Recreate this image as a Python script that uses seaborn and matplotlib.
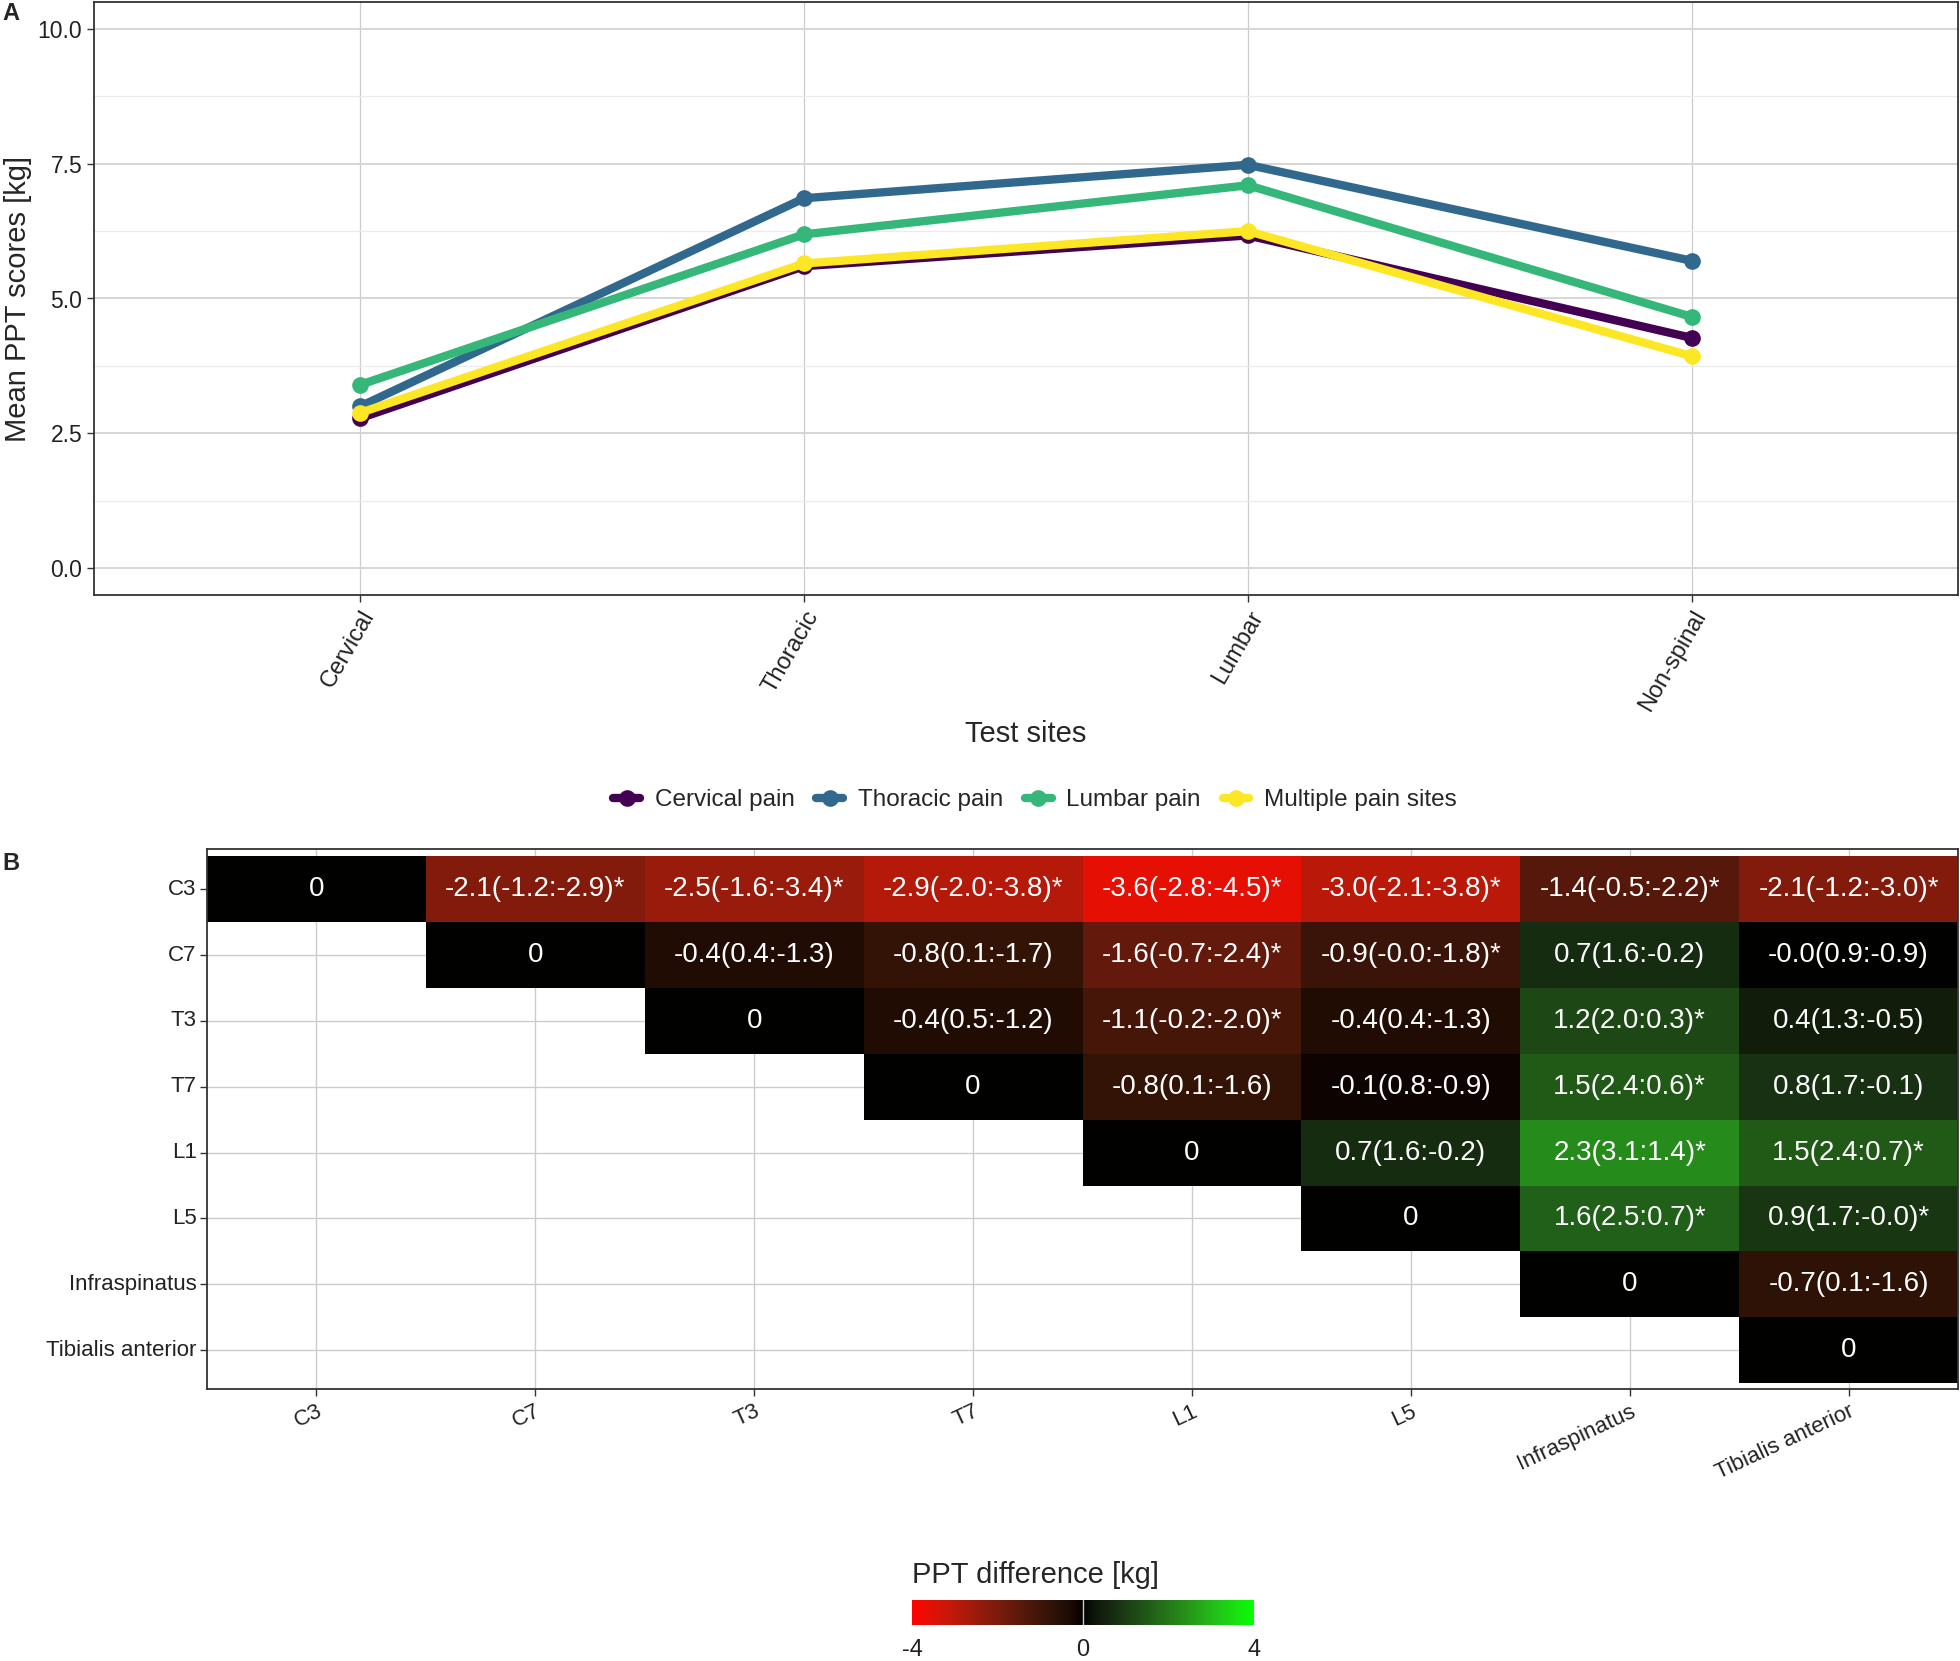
import matplotlib
matplotlib.use("Agg")
import matplotlib.pyplot as plt
import matplotlib.colors as mcolors
from matplotlib.lines import Line2D
import numpy as np
import pandas as pd
import seaborn as sns

# ---- panel A data ----
sites = ["Cervical", "Thoracic", "Lumbar", "Non-spinal"]
groups = ["Cervical pain", "Thoracic pain", "Lumbar pain", "Multiple pain sites"]
cervical_pain = [2.78, 5.60, 6.17, 4.27]
thoracic_pain = [3.00, 6.86, 7.48, 5.70]
lumbar_pain = [3.40, 6.19, 7.10, 4.66]
multiple_pain = [2.88, 5.65, 6.25, 3.93]
group_colors = ["#440154", "#31688E", "#35B779", "#FDE725"]

# ---- panel B data (upper triangle, row by row) ----
muscles = ["C3", "C7", "T3", "T7", "L1", "L5", "Infraspinatus", "Tibialis anterior"]
diff_rows = [
    [0, -2.1, -2.5, -2.9, -3.6, -3.0, -1.4, -2.1],
    [0, -0.4, -0.8, -1.6, -0.9, 0.7, -0.0],
    [0, -0.4, -1.1, -0.4, 1.2, 0.4],
    [0, -0.8, -0.1, 1.5, 0.8],
    [0, 0.7, 2.3, 1.5],
    [0, 1.6, 0.9],
    [0, -0.7],
    [0],
]
label_rows = [
    ["0", "-2.1(-1.2:-2.9)*", "-2.5(-1.6:-3.4)*", "-2.9(-2.0:-3.8)*",
     "-3.6(-2.8:-4.5)*", "-3.0(-2.1:-3.8)*", "-1.4(-0.5:-2.2)*", "-2.1(-1.2:-3.0)*"],
    ["0", "-0.4(0.4:-1.3)", "-0.8(0.1:-1.7)", "-1.6(-0.7:-2.4)*",
     "-0.9(-0.0:-1.8)*", "0.7(1.6:-0.2)", "-0.0(0.9:-0.9)"],
    ["0", "-0.4(0.5:-1.2)", "-1.1(-0.2:-2.0)*", "-0.4(0.4:-1.3)",
     "1.2(2.0:0.3)*", "0.4(1.3:-0.5)"],
    ["0", "-0.8(0.1:-1.6)", "-0.1(0.8:-0.9)", "1.5(2.4:0.6)*", "0.8(1.7:-0.1)"],
    ["0", "0.7(1.6:-0.2)", "2.3(3.1:1.4)*", "1.5(2.4:0.7)*"],
    ["0", "1.6(2.5:0.7)*", "0.9(1.7:-0.0)*"],
    ["0", "-0.7(0.1:-1.6)"],
    ["0"],
]


def to_lab(c):
    rgb = np.array(mcolors.to_rgb(c))
    lin = np.where(rgb <= 0.04045, rgb / 12.92, ((rgb + 0.055) / 1.055) ** 2.4)
    xyz = M_RGB2XYZ @ lin / WHITE
    f = np.where(xyz > (6 / 29) ** 3, np.cbrt(xyz), xyz / (3 * (6 / 29) ** 2) + 4 / 29)
    return np.array([116 * f[1] - 16, 500 * (f[0] - f[1]), 200 * (f[1] - f[2])])


def from_lab(lab):
    fy = (lab[0] + 16) / 116
    f = np.array([fy + lab[1] / 500, fy, fy - lab[2] / 200])
    xyz = np.where(f > 6 / 29, f ** 3, 3 * (6 / 29) ** 2 * (f - 4 / 29)) * WHITE
    lin = np.linalg.inv(M_RGB2XYZ) @ xyz
    lin = np.clip(lin, 0, None)
    rgb = np.where(lin <= 0.0031308, 12.92 * lin, 1.055 * lin ** (1 / 2.4) - 0.055)
    return np.clip(rgb, 0, 1)


M_RGB2XYZ = np.array([[0.4124, 0.3576, 0.1805],
                      [0.2126, 0.7152, 0.0722],
                      [0.0193, 0.1192, 0.9505]])
WHITE = np.array([0.95047, 1.0, 1.08883])

# red - black - green, interpolated in Lab like ggplot's gradient2
lab_lo, lab_mid, lab_hi = to_lab("#FF0000"), to_lab("#000000"), to_lab("#00FF00")
ramp = []
for t in np.linspace(0, 1, 256):
    if t < 0.5:
        s = t / 0.5
        ramp.append(from_lab(lab_lo + (lab_mid - lab_lo) * s))
    else:
        s = (t - 0.5) / 0.5
        ramp.append(from_lab(lab_mid + (lab_hi - lab_mid) * s))
rgb_cmap = mcolors.ListedColormap(ramp)

sns.set_theme(style="ticks")
plt.rcParams["font.family"] = ["Liberation Sans", "DejaVu Sans"]
plt.rcParams["axes.unicode_minus"] = False

fig = plt.figure(figsize=(19.6, 16.61), dpi=100)

# ---------------- panel A ----------------
ax = fig.add_axes([94 / 1960, 1 - 595 / 1661, 1864 / 1960, 593 / 1661])
df = pd.DataFrame({
    "site": sites * 4,
    "group": np.repeat(groups, 4),
    "ppt": cervical_pain + thoracic_pain + lumbar_pain + multiple_pain,
})
sns.lineplot(data=df, x="site", y="ppt", hue="group", hue_order=groups,
             palette=group_colors, marker="o", markersize=12, markeredgewidth=0,
             linewidth=6, sort=False, ax=ax, legend=False)
ax.set_xlim(-0.6, 3.6)
ax.set_ylim(-0.5, 10.5)
ax.set_yticks([0, 2.5, 5, 7.5, 10])
ax.set_yticklabels(["0.0", "2.5", "5.0", "7.5", "10.0"])
ax.set_yticks([1.25, 3.75, 6.25, 8.75], minor=True)
ax.set_axisbelow(True)
ax.grid(True, axis="y", which="major", color="#d6d6d6", lw=1.4)
ax.grid(True, axis="y", which="minor", color="#ebebeb", lw=0.9)
ax.grid(True, axis="x", which="major", color="#cccccc", lw=0.9)
ax.tick_params(axis="y", which="minor", length=0)
ax.tick_params(axis="both", which="major", length=5, width=1, color="#333333",
               labelsize=16.5, labelcolor="#222222")
plt.setp(ax.get_xticklabels(), rotation=60, ha="right", va="top",
         rotation_mode="anchor", fontsize=17)
for s in ax.spines.values():
    s.set_visible(True)
    s.set_color("#333333")
    s.set_linewidth(1.3)
ax.set_xlabel("Test sites", fontsize=21)
ax.set_ylabel("Mean PPT scores [kg]", fontsize=21)
ax.xaxis.set_label_coords(0.5, -0.21)
ax.yaxis.set_label_coords(-0.033, 0.5)

handles = [Line2D([], [], color=c, lw=6, marker="o", markersize=12, markeredgewidth=0)
           for c in group_colors]
fig.legend(handles, groups, loc="center", bbox_to_anchor=(1035 / 1960, 1 - 800 / 1661),
           ncol=4, frameon=False, fontsize=17.5, handlelength=1.1, handletextpad=0.6,
           columnspacing=0.9)

fig.text(0.001, 0.999, "A", fontsize=17, fontweight="bold", ha="left", va="top")
fig.text(0.001, 1 - 852 / 1661, "B", fontsize=17, fontweight="bold", ha="left", va="top")

# ---------------- panel B ----------------
n = len(muscles)
diff = np.full((n, n), np.nan)
labels = np.full((n, n), "", dtype=object)
for i in range(n):
    diff[i, i:] = diff_rows[i]
    labels[i, i:] = label_rows[i]
diff_df = pd.DataFrame(diff, index=muscles, columns=muscles)

axh = fig.add_axes([207 / 1960, 1 - 1389 / 1661, 1751 / 1960, 540 / 1661])
cax = fig.add_axes([912 / 1960, 1 - 1625 / 1661, 342 / 1960, 25 / 1661])
sns.heatmap(diff_df, mask=np.isnan(diff), cmap=rgb_cmap, vmin=-4, vmax=4,
            annot=labels, fmt="", annot_kws={"color": "white", "fontsize": 20},
            ax=axh, cbar_ax=cax,
            cbar_kws={"orientation": "horizontal", "ticks": [-4, 0, 4]})
axh.set_ylim(n + 0.09, -0.11)
axh.set_xlim(0, n)
axh.set_axisbelow(True)
axh.grid(True, color="#cccccc", lw=1.0)
axh.set_xlabel("")
axh.set_ylabel("")
for s in axh.spines.values():
    s.set_visible(True)
    s.set_color("#333333")
    s.set_linewidth(1.3)
axh.tick_params(axis="both", length=5, width=1, color="#333333", labelsize=16,
                labelcolor="#222222", bottom=True, left=True)
axh.tick_params(axis="y", pad=2.5)
plt.setp(axh.get_yticklabels(), rotation=0)
plt.setp(axh.get_xticklabels(), rotation=25, ha="right", va="top",
         rotation_mode="anchor")

cbar = axh.collections[0].colorbar
cbar.outline.set_visible(False)
cax.tick_params(length=0, labelsize=17, pad=10, labelcolor="#222222")
cax.axvline(0, color="white", lw=1.0, alpha=0.8)
cax.set_title("PPT difference [kg]", loc="left", fontsize=21, pad=12)

fig.savefig("out.png", dpi=100)
